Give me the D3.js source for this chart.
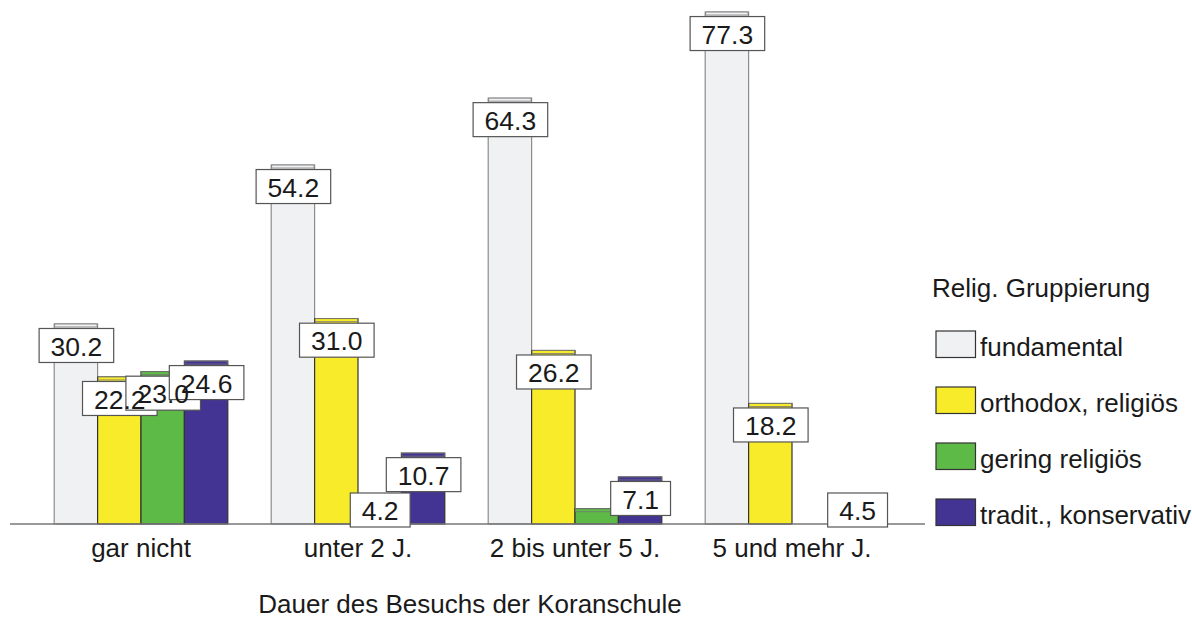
<!DOCTYPE html>
<html>
<head>
<meta charset="utf-8">
<script src="https://cdn.jsdelivr.net/npm/d3@7"></script>
<style>
  html, body { margin: 0; padding: 0; background: #fff; }
  svg { display: block; font-family: "Liberation Sans", Arial, sans-serif; }
</style>
</head>
<body>
<svg id="chart" width="1192" height="618"></svg>
<script>
// Dauer des Besuchs der Koranschule – Anteile je religiöser Gruppierung (%)
const categories = ["gar nicht", "unter 2 J.", "2 bis unter 5 J.", "5 und mehr J."];
const seriesNames = ["fundamental", "orthodox, religiös", "gering religiös", "tradit., konservativ"];
const fundamental = [30.2, 54.2, 64.3, 77.3];
const orthodox    = [22.2, 31.0, 26.2, 18.2];
const gering      = [23.0, 4.2, 2.3, null];
const tradit      = [24.6, 10.7, 7.1, 4.5];
const seriesValues = [fundamental, orthodox, gering, tradit];
const seriesColors = ["#f0f1f3", "#f8ec2a", "#5eba47", "#433392"];
const seriesStroke = ["#8c8c8c", "#333333", "#333333", "#333333"];
const legendTitle = "Relig. Gruppierung";
const axisTitle = "Dauer des Besuchs der Koranschule";
const minLabelValue = 3; // very small values are drawn without a label

const textColor = "#1a1a1a";
const textSize = 26;

const svg = d3.select("#chart");
const baseY = 524;

const x0 = d3.scaleBand().domain(categories).range([32.5, 900.5])
  .paddingInner(0.2).paddingOuter(0.1);
const x1 = d3.scaleBand().domain(d3.range(seriesNames.length)).range([0, x0.bandwidth()]);
const y = d3.scaleLinear().domain([0, 80]).range([baseY, baseY - 80 * 6.623]);

// flat records for bars
const records = [];
seriesValues.forEach((vals, s) => {
  vals.forEach((v, c) => {
    if (v == null) return;
    records.push({ s, c, v, cat: categories[c] });
  });
});

const bars = svg.append("g");
const bx = d => x0(d.cat) + x1(d.s);
const bw = x1.bandwidth();

bars.selectAll("rect.bar").data(records).join("rect")
  .attr("class", "bar")
  .attr("x", bx)
  .attr("y", d => y(d.v))
  .attr("width", bw)
  .attr("height", d => baseY - y(d.v))
  .attr("fill", d => seriesColors[d.s])
  .attr("stroke", d => seriesStroke[d.s])
  .attr("stroke-width", 1.2);

// thin top face of each bar
bars.selectAll("rect.cap").data(records).join("rect")
  .attr("class", "cap")
  .attr("x", d => bx(d) + 0.5)
  .attr("y", d => y(d.v))
  .attr("width", bw - 1)
  .attr("height", 3)
  .attr("fill", d => seriesColors[d.s])
  .attr("stroke", "#777")
  .attr("stroke-width", 0.8);

// baseline
svg.append("line")
  .attr("x1", 10).attr("x2", 925)
  .attr("y1", baseY).attr("y2", baseY)
  .attr("stroke", "#777").attr("stroke-width", 1.5);

// category axis (labels only)
const xAxis = d3.axisBottom(x0).tickSize(0).tickPadding(0);
const axisG = svg.append("g").attr("transform", `translate(0,${baseY})`).call(xAxis);
axisG.select(".domain").remove();
axisG.selectAll("text")
  .attr("y", 33).attr("dy", null)
  .attr("fill", textColor)
  .style("font-size", textSize + "px")
  .style("font-family", "Liberation Sans, Arial, sans-serif");

// value labels: all boxes first, then all texts
const labelled = records.filter(d => d.v >= minLabelValue);
const fmt = d3.format(".1f");
const labelFont = 26.5;
const measure = svg.append("text").style("font-size", labelFont + "px").attr("visibility", "hidden");
labelled.forEach(d => {
  measure.text(fmt(d.v));
  d.tw = measure.node().getComputedTextLength();
  d.bw = d.tw + 23;
  d.cx = bx(d) + bw / 2 + 0.5;
  d.by = Math.min(y(d.v) + 4.5, baseY - 31);
});
measure.remove();

const labels = svg.append("g");
labels.selectAll("rect").data(labelled).join("rect")
  .attr("x", d => d.cx - d.bw / 2)
  .attr("y", d => d.by)
  .attr("width", d => d.bw)
  .attr("height", 34)
  .attr("fill", "#fff")
  .attr("stroke", "#555")
  .attr("stroke-width", 1.2);
labels.selectAll("text").data(labelled).join("text")
  .attr("x", d => d.cx)
  .attr("y", d => d.by + 27.3)
  .attr("text-anchor", "middle")
  .attr("fill", textColor)
  .style("font-size", labelFont + "px")
  .text(d => fmt(d.v));

// axis title
svg.append("text")
  .attr("x", 470).attr("y", 613)
  .attr("text-anchor", "middle")
  .attr("fill", textColor)
  .style("font-size", textSize + "px")
  .text(axisTitle);

// legend
const legend = svg.append("g");
legend.append("text")
  .attr("x", 932).attr("y", 297)
  .attr("fill", textColor)
  .style("font-size", textSize + "px")
  .text(legendTitle);
const items = legend.selectAll("g.item").data(seriesNames).join("g")
  .attr("class", "item")
  .attr("transform", (d, i) => `translate(0,${331 + i * 56})`);
items.append("rect")
  .attr("x", 936).attr("y", 0)
  .attr("width", 39.5).attr("height", 26.5)
  .attr("fill", (d, i) => seriesColors[i])
  .attr("stroke", "#333").attr("stroke-width", 1.2);
items.append("text")
  .attr("x", 980).attr("y", 25)
  .attr("fill", textColor)
  .style("font-size", textSize + "px")
  .text(d => d);
</script>
</body>
</html>
